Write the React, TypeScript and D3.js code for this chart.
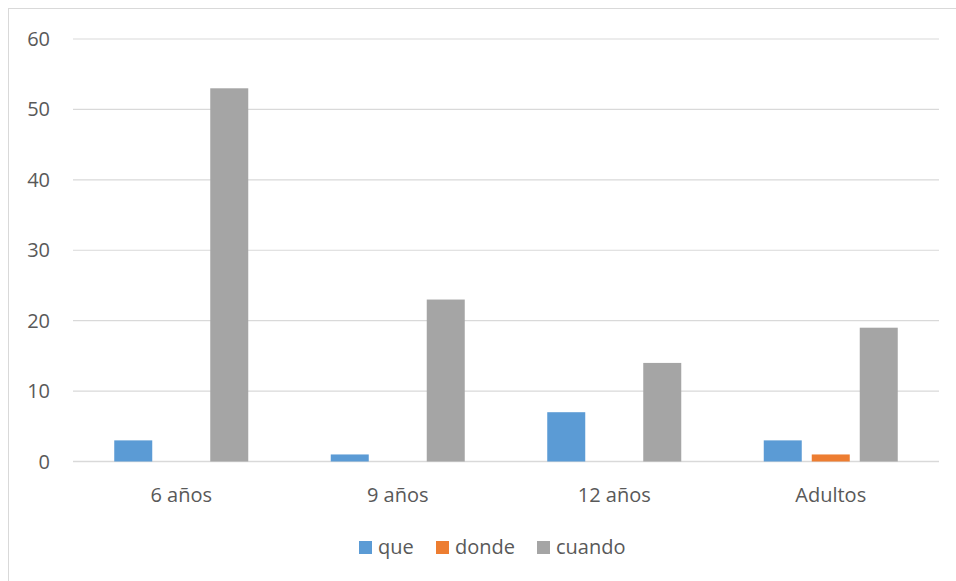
import React from "react";
import * as d3 from "d3";

const categories = ["6 años", "9 años", "12 años", "Adultos"];
const seriesNames = ["que", "donde", "cuando"];
const queValues = [3, 1, 7, 3];
const dondeValues = [0, 0, 0, 1];
const cuandoValues = [53, 23, 14, 19];
const yTicks = [0, 10, 20, 30, 40, 50, 60];
const colors = ["#5B9BD5", "#ED7D31", "#A5A5A5"];

const W = 956;
const H = 581;
const left = 73;
const right = 939;
const top = 39;
const bottom = 461.5;
const FONT = "'Open Sans', sans-serif";

export default function App() {
  const series = [queValues, dondeValues, cuandoValues];
  const x = d3.scaleBand().domain(categories).range([left, right]).paddingInner(0).paddingOuter(0);
  const y = d3.scaleLinear().domain([0, 60]).range([bottom, top]);
  const barW = 38;
  const gap = 10;
  const groupW = seriesNames.length * barW + (seriesNames.length - 1) * gap;
  const legendX = [359, 436, 537];

  return (
    <svg width={W} height={H} style={{ position: "absolute", left: 0, top: 0 }}>
      <rect x={0} y={0} width={W} height={H} fill="#fff" />
      <rect x={8.5} y={8.5} width={W + 20} height={H + 20} fill="none" stroke="#D9D9D9" strokeWidth={1} />
      {yTicks.map((t) => (
        <g key={t}>
          <line x1={left} x2={right} y1={y(t)} y2={y(t)} stroke="#D9D9D9" strokeWidth={t === 0 ? 1.5 : 1.2} />
          <text x={50} y={y(t)} dy="0.35em" textAnchor="end" fontFamily={FONT} fontSize={20} fill="#595959">
            {t}
          </text>
        </g>
      ))}
      {categories.map((c, i) => {
        const cx = (x(c) as number) + x.bandwidth() / 2;
        const start = cx - groupW / 2;
        return (
          <g key={c}>
            {series.map((vals, s) =>
              vals[i] > 0 ? (
                <rect
                  key={s}
                  x={start + s * (barW + gap)}
                  y={y(vals[i])}
                  width={barW}
                  height={y(0) - y(vals[i])}
                  fill={colors[s]}
                />
              ) : null
            )}
            <text x={cx} y={502} textAnchor="middle" fontFamily={FONT} fontSize={20} fill="#595959">
              {c}
            </text>
          </g>
        );
      })}
      {seriesNames.map((n, s) => (
        <g key={n}>
          <rect x={legendX[s]} y={541} width={13} height={13} fill={colors[s]} />
          <text x={legendX[s] + 19} y={554} fontFamily={FONT} fontSize={20} fill="#595959">
            {n}
          </text>
        </g>
      ))}
    </svg>
  );
}
